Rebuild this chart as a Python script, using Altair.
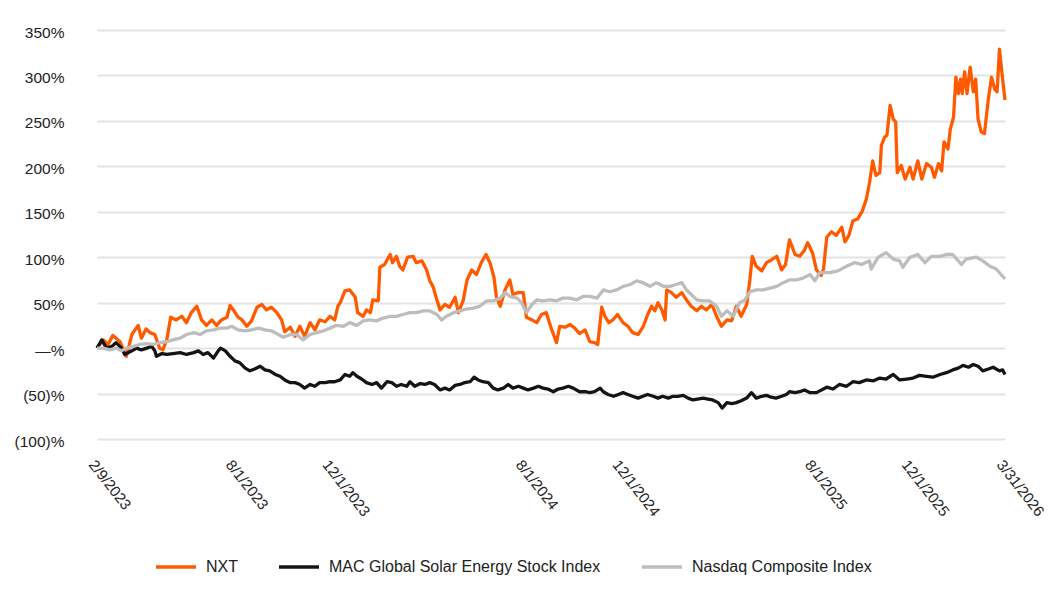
import altair as alt
import pandas as pd

START = "2023-02-09"

nxt_days = [0,8,14,20,29,37,44,52,56,62,67,73,79,83,88,93,100,107,113,119,126,132,138,145,151,157,164,168,173,178,183,189,195,202,208,214,220,227,233,237,244,250,256,262,269,275,281,288,294,300,304,307,313,319,326,329,336,340,345,348,355,357,363,370,373,378,382,386,392,399,403,410,416,420,424,429,433,439,445,452,456,462,467,473,479,485,491,496,501,504,509,515,521,525,531,538,542,549,555,561,567,574,580,584,591,597,603,609,616,622,628,632,637,641,646,651,657,664,670,676,683,689,695,700,704,708,713,717,719,725,731,738,744,750,757,763,769,776,782,788,795,801,807,813,820,824,827,832,839,845,851,858,864,869,874,881,887,893,897,903,908,914,917,921,927,933,940,944,949,954,960,966,971,975,979,983,988,990,994,997,1001,1005,1008,1010,1015,1020,1026,1030,1036,1041,1047,1053,1057,1062,1066,1069,1074,1077,1081,1084,1087,1090,1092,1095,1098,1102,1106,1109,1112,1116,1120,1125,1129,1133,1136,1139,1143,1146]
nxt_vals = [0,9,4,14,7,-9,15,25,11,21,17,15,0,-2,9,34,31,35,28,39,46,31,25,31,25,31,34,47,41,34,31,24,30,45,48,42,45,39,31,18,23,13,24,13,28,20,31,29,35,31,46,50,63,64,56,39,35,42,39,53,52,89,92,103,94,101,90,86,100,101,94,96,86,74,68,53,42,48,45,56,39,52,75,86,81,94,103,94,78,57,46,64,75,59,61,61,34,31,28,37,39,20,6,24,23,26,22,16,20,7,6,4,45,35,28,31,37,28,24,17,15,23,37,46,41,50,42,31,64,61,56,61,53,46,41,46,42,48,35,24,31,30,46,35,48,75,101,90,85,94,97,101,86,92,119,103,101,108,116,105,86,80,87,122,128,124,133,117,124,140,142,151,164,182,206,190,193,223,232,234,267,252,249,193,201,186,199,186,206,186,203,199,188,203,195,227,219,241,254,298,280,296,280,304,280,309,282,296,252,238,236,274,298,285,282,329,296,273]

mac_days = [0,6,12,19,24,31,35,44,50,56,63,69,73,75,82,88,96,105,113,122,128,134,140,147,153,156,162,168,174,180,187,193,199,206,212,218,225,231,237,244,250,256,262,269,275,281,288,294,300,307,313,319,323,328,334,340,347,353,359,366,372,378,384,391,395,401,408,414,420,426,433,439,445,452,458,464,471,476,481,487,494,500,506,513,519,525,532,538,544,551,557,563,569,576,582,588,595,601,609,616,622,628,635,639,645,652,658,664,670,676,683,689,695,702,708,714,721,727,733,740,746,752,758,765,771,777,784,789,795,801,807,813,820,826,832,839,845,851,857,864,870,874,881,887,893,900,908,921,929,937,946,954,962,971,980,988,996,1005,1013,1022,1030,1038,1047,1055,1064,1072,1080,1087,1093,1100,1106,1112,1118,1125,1131,1139,1143,1146]
mac_vals = [0,9,0,2,6,0,-7,-3,0,-2,0,2,-3,-9,-6,-7,-6,-5,-7,-5,-3,-7,-5,-11,-3,0,-3,-9,-14,-16,-22,-25,-23,-20,-24,-25,-29,-31,-35,-38,-38,-40,-44,-40,-42,-38,-38,-37,-37,-35,-29,-31,-27,-31,-34,-38,-40,-38,-44,-37,-38,-42,-40,-42,-37,-42,-39,-40,-38,-40,-46,-44,-46,-41,-40,-38,-37,-32,-35,-37,-38,-44,-46,-44,-40,-44,-42,-44,-46,-44,-42,-44,-45,-48,-45,-44,-42,-44,-48,-48,-49,-48,-44,-48,-51,-53,-51,-49,-51,-53,-55,-53,-51,-53,-55,-53,-55,-53,-53,-52,-55,-57,-56,-55,-56,-57,-60,-66,-60,-61,-60,-58,-55,-49,-55,-53,-52,-54,-55,-53,-51,-48,-49,-48,-46,-49,-49,-43,-45,-40,-42,-37,-38,-35,-36,-33,-34,-29,-35,-34,-33,-30,-31,-32,-29,-27,-24,-22,-19,-21,-18,-20,-25,-23,-21,-25,-24,-29]

ndq_days = [0,8,16,25,31,37,46,54,63,71,79,88,96,105,113,122,130,138,147,155,164,170,178,187,195,204,212,220,229,235,244,252,260,269,277,286,294,302,311,319,328,336,344,353,361,370,378,386,395,403,412,420,429,435,441,450,458,466,475,483,492,500,509,515,521,530,536,542,549,555,563,572,580,588,597,605,614,622,631,639,647,656,664,673,681,689,698,706,715,723,731,738,744,750,757,765,773,782,788,795,803,811,818,824,832,841,849,858,866,874,883,891,900,906,912,925,935,946,956,965,975,977,986,996,1005,1013,1017,1026,1036,1045,1053,1064,1072,1080,1091,1097,1110,1118,1127,1135,1144,1146]
ndq_vals = [0,0,-2,0,-3,0,2,4,5,4,6,7,9,11,15,17,15,19,20,22,22,24,20,19,20,22,20,19,15,12,15,15,9,15,17,19,22,25,24,28,25,30,31,30,33,35,35,37,39,39,41,41,37,31,35,39,41,43,44,46,52,52,55,61,57,55,50,39,48,53,52,53,52,55,55,53,57,57,55,64,62,64,68,70,74,72,68,72,68,68,70,72,64,59,53,52,52,46,35,41,35,50,53,62,64,64,66,68,72,75,75,77,81,74,83,83,85,90,94,92,96,87,100,105,98,96,89,100,103,94,101,101,103,103,92,98,100,96,90,87,78,76]

series_names = ["NXT", "MAC Global Solar Energy Stock Index", "Nasdaq Composite Index"]
series_colors = ["#FF5A00", "#141414", "#BDBDBD"]
tick_dates = ["2023-02-09", "2023-08-01", "2023-12-01", "2024-08-01",
              "2024-12-01", "2025-08-01", "2025-12-01", "2026-03-31"]
y_ticks = [-100, -50, 0, 50, 100, 150, 200, 250, 300, 350]

start = pd.Timestamp(START)
frames = []
for name, days, vals in zip(series_names, [nxt_days, mac_days, ndq_days], [nxt_vals, mac_vals, ndq_vals]):
    frames.append(pd.DataFrame({
        "date": [(start + pd.Timedelta(days=d)).strftime("%Y-%m-%d") for d in days],
        "value": vals,
        "series": name,
    }))
df = pd.concat(frames, ignore_index=True)


def dt(s):
    y, m, d = (int(p) for p in s.split("-"))
    return alt.DateTime(year=y, month=m, date=d)


chart = alt.Chart(df).mark_line(strokeWidth=3.3, strokeJoin="round").encode(
    x=alt.X("date:T",
            scale=alt.Scale(domain=[dt(tick_dates[0]), dt(tick_dates[-1])]),
            axis=alt.Axis(values=[dt(t) for t in tick_dates], format="%-m/%-d/%Y",
                          title=None, grid=False, domain=False, ticks=False, tickSize=0,
                          labelAngle=52, labelAlign="left", labelBaseline="top",
                          labelPadding=18, labelFontSize=15, labelColor="#222222",
                          labelFont="Liberation Sans", labelOverlap=False, labelFlush=False)),
    y=alt.Y("value:Q",
            scale=alt.Scale(domain=[-100, 350], nice=False, zero=False),
            axis=alt.Axis(values=y_ticks, title=None, domain=False, ticks=False, tickSize=0,
                          grid=True, gridColor="#E3E3E3", gridWidth=2,
                          labelPadding=33, labelFontSize=15.5, labelColor="#222222",
                          labelFont="Liberation Sans", labelOffset=2,
                          labelExpr="datum.value == 0 ? '—%' : (datum.value < 0 ? '(' + abs(datum.value) + ')%' : datum.value + '%')")),
    color=alt.Color("series:N",
                    scale=alt.Scale(domain=series_names, range=series_colors),
                    legend=alt.Legend(title=None, orient="none", direction="horizontal",
                                      legendX=57, legendY=515,
                                      symbolType="stroke", symbolSize=1600, symbolStrokeWidth=3.5,
                                      labelFontSize=16, labelFont="Liberation Sans", labelLimit=600,
                                      labelColor="#222222", labelOffset=8, columnPadding=34)),
).properties(
    width=908,
    height=409,
    autosize=alt.AutoSizeParams(type="none"),
    padding={"left": 89, "top": 22, "right": 43, "bottom": 160},
).configure_view(stroke=None)

chart.save("out.html", embed_options={"renderer": "svg", "actions": False})
